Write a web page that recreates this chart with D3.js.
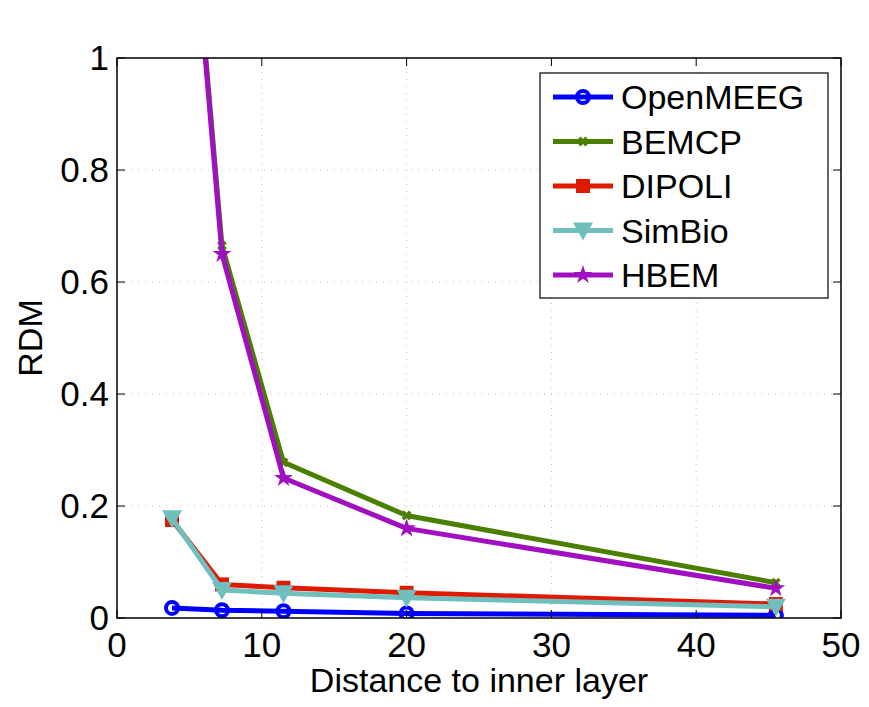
<!DOCTYPE html>
<meta charset="utf-8">
<html>
<head>
<script src="https://d3js.org/d3.v7.min.js"></script>
<style>
  body { margin: 0; background: #fff; }
  text { font-family: "Liberation Sans", Arial, sans-serif; }
</style>
</head>
<body>
<svg id="chart" width="869" height="707"></svg>
<script>
var distances = [3.8, 7.25, 11.5, 20, 45.5];
var seriesNames = ["OpenMEEG", "BEMCP", "DIPOLI", "SimBio", "HBEM"];
var openmeeg = [0.018, 0.014, 0.012, 0.008, 0.005];
var bemcp = [1.7, 0.665, 0.278, 0.183, 0.063];
var dipoli = [0.175, 0.06, 0.054, 0.045, 0.025];
var simbio = [0.178, 0.05, 0.044, 0.036, 0.02];
var hbem = [1.7, 0.65, 0.25, 0.16, 0.053];
var xTicks = [0, 10, 20, 30, 40, 50];
var yTicks = [0, 0.2, 0.4, 0.6, 0.8, 1];

var series = [
  {name: "OpenMEEG", values: openmeeg, color: "#0000ff", marker: "circle"},
  {name: "BEMCP", values: bemcp, color: "#4a7f00", marker: "cross"},
  {name: "DIPOLI", values: dipoli, color: "#e01a00", marker: "square"},
  {name: "SimBio", values: simbio, color: "#6fbfbf", marker: "tri"},
  {name: "HBEM", values: hbem, color: "#a010c0", marker: "star"}
];

var svg = d3.select("#chart");
var L = 117, R = 841, T = 58, B = 618;
var x = d3.scaleLinear().domain([0, 50]).range([L, R]);
var y = d3.scaleLinear().domain([0, 1]).range([B, T]);

// grid
var g = svg.append("g");
xTicks.slice(1, -1).forEach(function(t) {
  g.append("line").attr("x1", x(t)).attr("x2", x(t)).attr("y1", T).attr("y2", B)
    .attr("stroke", "#bbb").attr("stroke-dasharray", "1,6");
});
yTicks.slice(1, -1).forEach(function(t) {
  g.append("line").attr("y1", y(t)).attr("y2", y(t)).attr("x1", L).attr("x2", R)
    .attr("stroke", "#bbb").attr("stroke-dasharray", "1,6");
});

svg.append("defs").append("clipPath").attr("id", "clip")
  .append("rect").attr("x", L).attr("y", T).attr("width", R - L).attr("height", B - T);

var plot = svg.append("g").attr("clip-path", "url(#clip)");
var line = d3.line().x(function(d, i) { return x(distances[i]); }).y(function(d) { return y(d); });

function drawMarker(sel, type, color, cx, cy) {
  if (type == "circle") sel.append("circle").attr("cx", cx).attr("cy", cy).attr("r", 6)
    .attr("fill", "none").attr("stroke", color).attr("stroke-width", 4);
  else if (type == "square") sel.append("rect").attr("x", cx - 7).attr("y", cy - 7).attr("width", 14).attr("height", 14).attr("fill", color);
  else if (type == "tri") sel.append("path").attr("d", "M" + (cx - 10) + "," + (cy - 8) + "L" + (cx + 10) + "," + (cy - 8) + "L" + cx + "," + (cy + 10) + "Z").attr("fill", color);
  else if (type == "cross") sel.append("path").attr("d", d3.symbol(d3.symbolCross, 60)()).attr("transform", "translate(" + cx + "," + cy + ") rotate(45)").attr("fill", color);
  else if (type == "star") sel.append("path").attr("d", d3.symbol(d3.symbolStar, 110)()).attr("transform", "translate(" + cx + "," + cy + ")").attr("fill", color);
}

series.forEach(function(s) {
  plot.append("path").attr("d", line(s.values)).attr("fill", "none")
    .attr("stroke", s.color).attr("stroke-width", 5).attr("stroke-linejoin", "round");
  s.values.forEach(function(v, i) { drawMarker(plot, s.marker, s.color, x(distances[i]), y(v)); });
});

// axes box
svg.append("rect").attr("x", L).attr("y", T).attr("width", R - L).attr("height", B - T)
  .attr("fill", "none").attr("stroke", "#000").attr("stroke-width", 1.5);
xTicks.forEach(function(t) {
  svg.append("line").attr("x1", x(t)).attr("x2", x(t)).attr("y1", B).attr("y2", B - 8).attr("stroke", "#000");
  svg.append("line").attr("x1", x(t)).attr("x2", x(t)).attr("y1", T).attr("y2", T + 8).attr("stroke", "#000");
  svg.append("text").attr("x", x(t)).attr("y", B + 39).attr("text-anchor", "middle").attr("font-size", 35).text(t);
});
yTicks.forEach(function(t) {
  svg.append("line").attr("x1", L).attr("x2", L + 8).attr("y1", y(t)).attr("y2", y(t)).attr("stroke", "#000");
  svg.append("line").attr("x1", R).attr("x2", R - 8).attr("y1", y(t)).attr("y2", y(t)).attr("stroke", "#000");
  svg.append("text").attr("x", L - 8).attr("y", y(t) + 12).attr("text-anchor", "end").attr("font-size", 35).text(t);
});
svg.append("text").attr("x", 479).attr("y", 692).attr("text-anchor", "middle").attr("font-size", 34).text("Distance to inner layer");
svg.append("text").attr("transform", "translate(42," + (T + B) / 2 + ") rotate(-90)").attr("text-anchor", "middle").attr("font-size", 34).text("RDM");

// legend
var lg = svg.append("g");
lg.append("rect").attr("x", 540).attr("y", 73).attr("width", 288).attr("height", 225)
  .attr("fill", "#fff").attr("stroke", "#000").attr("stroke-width", 1.2);
series.forEach(function(s, i) {
  var ly = 97 + i * 44.5;
  lg.append("line").attr("x1", 553).attr("x2", 613).attr("y1", ly).attr("y2", ly).attr("stroke", s.color).attr("stroke-width", 5);
  drawMarker(lg, s.marker, s.color, 583, ly);
  lg.append("text").attr("x", 621).attr("y", ly + 12).attr("font-size", 34).text(s.name);
});
</script>
</body>
</html>
